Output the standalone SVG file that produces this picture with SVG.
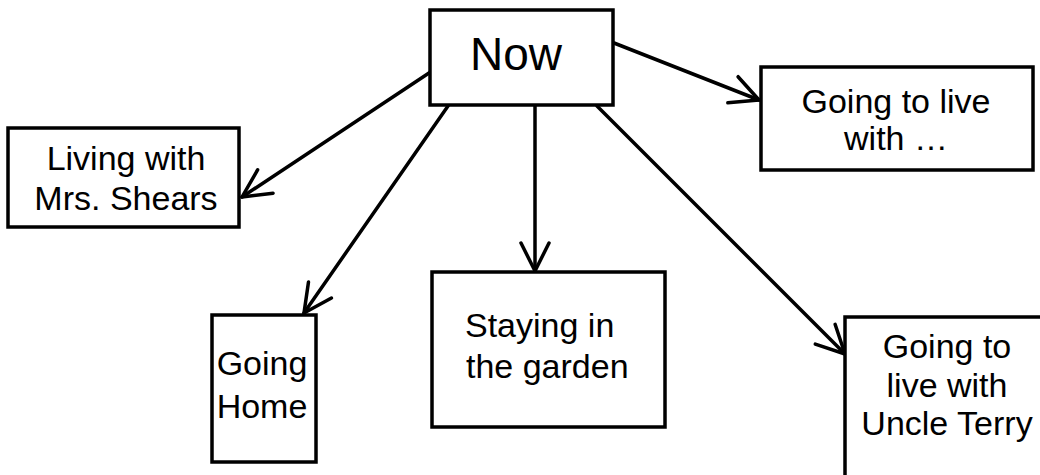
<svg xmlns="http://www.w3.org/2000/svg" width="1040" height="475" viewBox="0 0 1040 475">
<style>
.box{fill:#fff;stroke:#000;stroke-width:3.5}
.t{font-family:"Liberation Sans",Arial,sans-serif;font-size:34px;fill:#000}
.c{text-anchor:middle}
.conn{stroke:#000;stroke-width:3.5;fill:none;stroke-linecap:round}
</style>
<defs>
<marker id="ah" markerUnits="userSpaceOnUse" markerWidth="60" markerHeight="60" refX="0" refY="0" orient="auto" overflow="visible" viewBox="-40 -30 60 60">
<path d="M-28,-14 L0,0 L-28,14" fill="none" stroke="#000" stroke-width="3.5" stroke-linecap="round" stroke-linejoin="round"/>
</marker>
</defs>
<rect width="1040" height="475" fill="#fff"/>
<g id="connectors">
<line class="conn" x1="432" y1="71" x2="242" y2="197" marker-end="url(#ah)"/>
<line class="conn" x1="448" y1="106" x2="304" y2="313" marker-end="url(#ah)"/>
<line class="conn" x1="535" y1="106" x2="535" y2="271" marker-end="url(#ah)"/>
<line class="conn" x1="597" y1="106" x2="845" y2="354" marker-end="url(#ah)"/>
<line class="conn" x1="614" y1="43" x2="759" y2="100" marker-end="url(#ah)"/>
</g>
<g id="now">
<rect class="box" x="430" y="10" width="183" height="95"/>
<text class="t c" x="516" y="70" style="font-size:46px">Now</text>
</g>
<g id="living">
<rect class="box" x="8" y="128" width="231" height="99"/>
<text class="t c" x="126" y="170">Living with</text>
<text class="t c" x="126" y="210">Mrs. Shears</text>
</g>
<g id="goinglive">
<rect class="box" x="761" y="67" width="272" height="103"/>
<text class="t c" x="896" y="113">Going to live</text>
<text class="t c" x="896" y="150">with …</text>
</g>
<g id="goinghome">
<rect class="box" x="212" y="315" width="104" height="147"/>
<text class="t c" x="262" y="375">Going</text>
<text class="t c" x="262" y="418">Home</text>
</g>
<g id="staying">
<rect class="box" x="432" y="272" width="233" height="155"/>
<text class="t" x="465" y="337">Staying in</text>
<text class="t" x="466" y="378">the garden</text>
</g>
<g id="uncle">
<rect class="box" x="845" y="317" width="210" height="180"/>
<text class="t c" x="947" y="358">Going to</text>
<text class="t c" x="947" y="397">live with</text>
<text class="t c" x="947" y="435">Uncle Terry</text>
</g>
</svg>
